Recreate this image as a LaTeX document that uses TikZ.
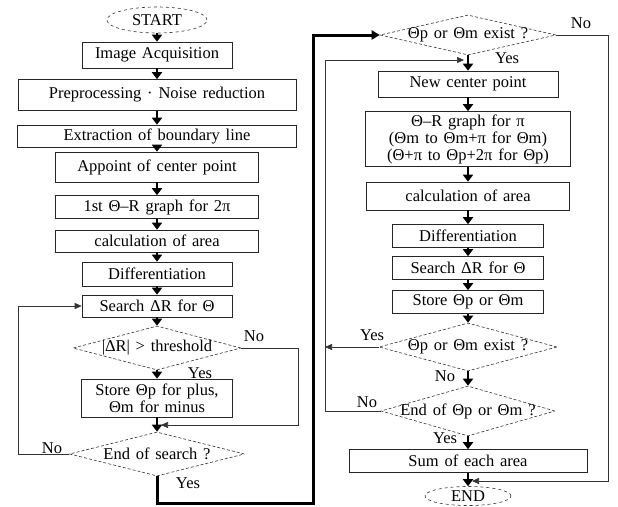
\documentclass[tikz,border=0pt]{standalone}
\usepackage{fontspec}
\setmainfont[WordSpace=1.4]{Liberation Serif}
\usetikzlibrary{shapes.geometric,arrows.meta}

\tikzset{
  box/.style={draw=black!85,line width=0.6pt,rectangle,inner sep=1pt,align=center},
  decision/.style={draw=black!80,densely dashed,line width=0.6pt,diamond,inner sep=0pt},
  terminal/.style={draw=black!80,dashed,line width=0.6pt,ellipse,inner sep=1pt},
  flow/.style={line width=2.4pt,-{Triangle[width=10pt,length=7pt]}},
  retline/.style={line width=0.6pt,draw=black!80,-{Triangle[width=6pt,length=7pt]}},
  bigpath/.style={line width=3pt,-{Triangle[width=9pt,length=8pt]}},
  lbl/.style={inner sep=0pt}
}

\begin{document}
\begin{tikzpicture}[x=1pt,y=-1pt,font=\fontsize{16.5}{17}\selectfont]
\useasboundingbox (0,0) rectangle (618,506);

% left column
\node[terminal,minimum width=100pt,minimum height=26pt] (start) at (157,20) {START};
\node[box,minimum width=150pt,minimum height=26pt] (acq) at (157,55) {Image Acquisition};
\node[box,minimum width=278pt,minimum height=31pt] (pre) at (157,95) {Preprocessing · Noise reduction};
\node[box,minimum width=279pt,minimum height=22pt] (ext) at (157,136) {Extraction of boundary line};
\node[box,minimum width=203pt,minimum height=30pt] (app) at (157,167) {Appoint of center point};
\node[box,minimum width=203pt,minimum height=23pt] (gr1) at (157,207) {1st Θ–R graph for 2π};
\node[box,minimum width=203pt,minimum height=22pt] (ca1) at (157,241) {calculation of area};
\node[box,minimum width=150pt,minimum height=24pt] (di1) at (157,274) {Differentiation};
\node[box,minimum width=150pt,minimum height=22pt] (se1) at (157,306) {Search ΔR for Θ};
\node[decision,minimum width=168pt,minimum height=44pt,label=center:{|ΔR| > threshold}] (th) at (157,348) {};
\node[box,minimum width=151pt,minimum height=38pt] (st1) at (157,398) {Store Θp for plus,\\Θm for minus};
\node[decision,minimum width=175pt,minimum height=44pt,label=center:{End of search ?}] (en1) at (157,454) {};
\coordinate (m1) at (157,425);

% right column
\node[decision,minimum width=176pt,minimum height=40pt,label=center:{Θp or Θm exist ?}] (q1) at (468,35) {};
\node[box,minimum width=180pt,minimum height=26pt] (nc) at (468,84) {New center point};
\node[box,minimum width=205pt,minimum height=55pt] (gr2) at (468,139) {Θ–R graph for π\\(Θm to Θm+π for Θm)\\(Θ+π to Θp+2π for Θp)};
\node[box,minimum width=203pt,minimum height=28pt] (ca2) at (468,196) {calculation of area};
\node[box,minimum width=151pt,minimum height=23pt] (di2) at (468,236) {Differentiation};
\node[box,minimum width=151pt,minimum height=23pt] (se2) at (468,268) {Search ΔR for Θ};
\node[box,minimum width=151pt,minimum height=23pt] (st2) at (468,302) {Store Θp or Θm};
\node[decision,minimum width=178pt,minimum height=48pt,label=center:{Θp or Θm exist ?}] (q2) at (468,347) {};
\node[decision,minimum width=174pt,minimum height=50pt,label=center:{End of Θp or Θm ?}] (q3) at (468,411) {};
\node[box,minimum width=238pt,minimum height=23pt] (sum) at (468,461) {Sum of each area};
\node[terminal,minimum width=86pt,minimum height=19pt] (endn) at (468,496) {END};
\coordinate (m2) at (468,60);
\coordinate (m3) at (468,481);
\coordinate (bk) at (325,60);

% main flow
\draw[flow] (start) -- (acq);
\draw[flow] (acq) -- (pre);
\draw[flow] (pre) -- (ext);
\draw[flow] (ext) -- (app);
\draw[flow] (app) -- (gr1);
\draw[flow] (gr1) -- (ca1);
\draw[flow] (ca1) -- (di1);
\draw[flow] (di1) -- (se1);
\draw[flow] (se1) -- (th.north);
\draw[flow] (th.south) -- (st1);
\draw[flow] (st1) -- (en1.north);
\draw[flow] (q1.south) -- (nc);
\draw[flow] (nc) -- (gr2);
\draw[flow] (gr2) -- (ca2);
\draw[flow] (ca2) -- (di2);
\draw[flow] (di2) -- (se2);
\draw[flow] (se2) -- (st2);
\draw[flow] (st2) -- (q2.north);
\draw[flow] (q2.south) -- (q3.north);
\draw[flow] (q3.south) -- (sum);
\draw[flow] (sum) -- (endn);

% branches
\draw[retline,shorten >=4pt] (th.east) -- ++(57,0) |- (m1);
\draw[retline] (en1.west) -- ++(-51,0) |- (se1.west);
\draw[bigpath] (en1.south) |- ++(156,27) |- (q1.west);
\draw[retline,shorten >=4pt] (q1.east) -- ++(52,0) |- (m3);
\draw[retline] (q2.west) -- (q2.west -| bk);
\draw[retline,shorten >=4pt] (q3.west) -| (bk) -- (m2);

% labels
\node[lbl] (l1) at (254,336) {No};
\node[lbl] (l2) at (200,373) {Yes};
\node[lbl] (l3) at (52,448) {No};
\node[lbl] (l4) at (188,483) {Yes};
\node[lbl] (l5) at (581,23) {No};
\node[lbl] (l6) at (507,58) {Yes};
\node[lbl] (l7) at (372,335) {Yes};
\node[lbl] (l8) at (445,376) {No};
\node[lbl] (l9) at (367,402) {No};
\node[lbl] (l10) at (445,438) {Yes};
\end{tikzpicture}
\end{document}
